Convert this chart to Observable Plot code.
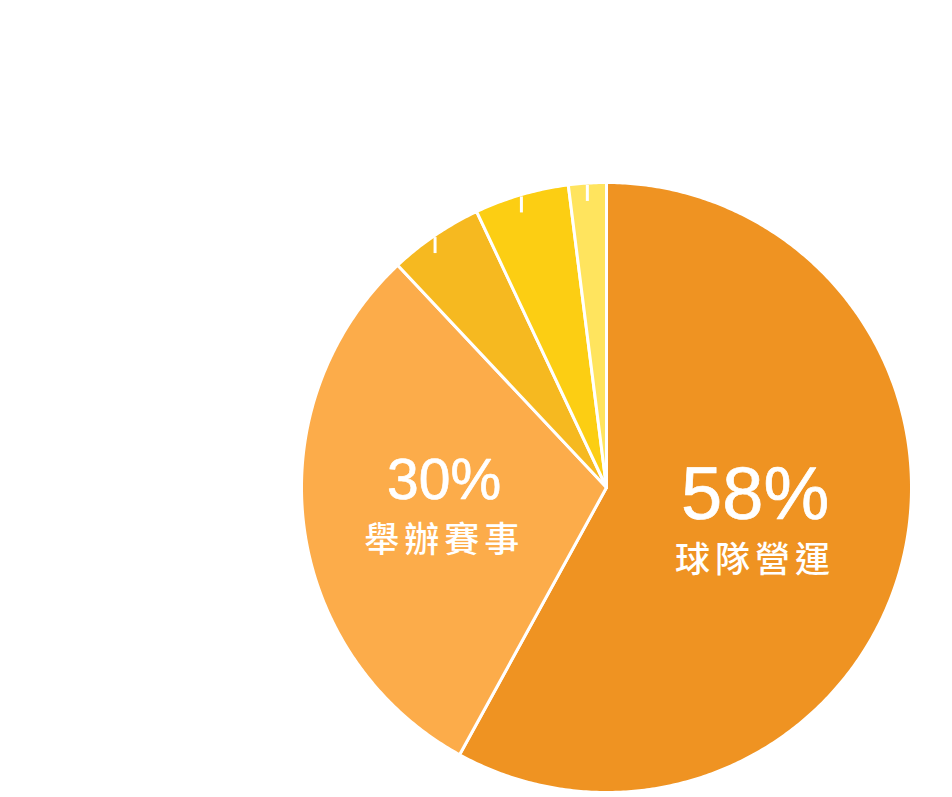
<!DOCTYPE html>
<html>
<head>
<meta charset="utf-8">
<script src="https://cdn.jsdelivr.net/npm/d3@7"></script>
<script src="https://cdn.jsdelivr.net/npm/@observablehq/plot@0.6"></script>
<style>
  html, body { margin: 0; padding: 0; background: #ffffff; }
  #chart svg { display: block; }
</style>
</head>
<body>
<div id="chart"></div>
<script>
// ---- data ----
const categories = ["球隊營運", "舉辦賽事", "項目三", "項目四", "項目五"];
const shares = [58, 30, 5, 5, 2];
const showLabel = [true, true, false, false, false];

// ---- styling (not data) ----
const sliceColors = ["#EF9322", "#FCAC4A", "#F6B920", "#FCCE13", "#FFE45E"];
const W = 952, H = 797;
const CX = 606, CY = 487, R = 305;
const labelRadius = 0.52;
const tickLen = 16 / R;

const total = d3.sum(shares);
let acc = 0;
const slices = categories.map((name, i) => {
  const a0 = acc / total * 2 * Math.PI;
  acc += shares[i];
  const a1 = acc / total * 2 * Math.PI;
  const mid = (a0 + a1) / 2;
  return {name, value: shares[i], a0, a1, mid, show: showLabel[i],
          lx: labelRadius * Math.sin(mid), ly: labelRadius * Math.cos(mid),
          ex: Math.sin(mid), ey: Math.cos(mid)};
});

// wedge outlines (geometry derived from the shares)
const outline = slices.flatMap(s => {
  const n = Math.max(2, Math.ceil((s.a1 - s.a0) / (Math.PI / 360)));
  const pts = [{name: s.name, x: 0, y: 0}];
  for (let k = 0; k <= n; k++) {
    const a = s.a0 + (s.a1 - s.a0) * k / n;
    pts.push({name: s.name, x: Math.sin(a), y: Math.cos(a)});
  }
  pts.push({name: s.name, x: 0, y: 0});
  return pts;
});

const labeled = slices.filter(s => s.show);
const unlabeled = slices.filter(s => !s.show);
const pctSize = d3.scaleLinear().domain([30, 58]).range([57, 74]);

const plot = Plot.plot({
  width: W,
  height: H,
  margin: 0,
  x: {domain: [-1, 1], range: [CX - R, CX + R], axis: null},
  y: {domain: [-1, 1], range: [CY + R, CY - R], axis: null},
  color: {domain: categories, range: sliceColors},
  style: {background: "#ffffff", fontFamily: "'Liberation Sans', 'Noto Sans CJK TC', sans-serif"},
  marks: [
    Plot.line(outline, {x: "x", y: "y", z: "name", fill: "name", stroke: "#ffffff",
                        strokeWidth: 3, strokeLinejoin: "round", curve: "linear"}),
    Plot.link(unlabeled, {x1: "ex", x2: "ex", y1: d => d.ey - 0.006, y2: d => d.ey - 0.006 - tickLen,
                          stroke: "#ffffff", strokeWidth: 3}),
    Plot.text(labeled, {x: "lx", y: "ly", text: d => `${d.value}%`, fill: "#ffffff",
                        stroke: "#ffffff", strokeWidth: 0.7,
                        fontSize: d => pctSize(d.value), lineAnchor: "bottom", dy: -8, dx: -5,
                        fontFamily: "'Liberation Sans', Arial, sans-serif"}),
    Plot.text(labeled, {x: "lx", y: "ly", text: "name", fill: "#ffffff",
                        fontSize: 35, lineAnchor: "top", dy: 20, dx: -5,
                        fontFamily: "'Noto Sans CJK TC', sans-serif", fontWeight: 500})
  ]
});

plot.querySelectorAll("text").forEach(t => {
  if (categories.includes(t.textContent)) t.style.letterSpacing = "5px";
});

document.getElementById("chart").append(plot);
</script>
</body>
</html>
